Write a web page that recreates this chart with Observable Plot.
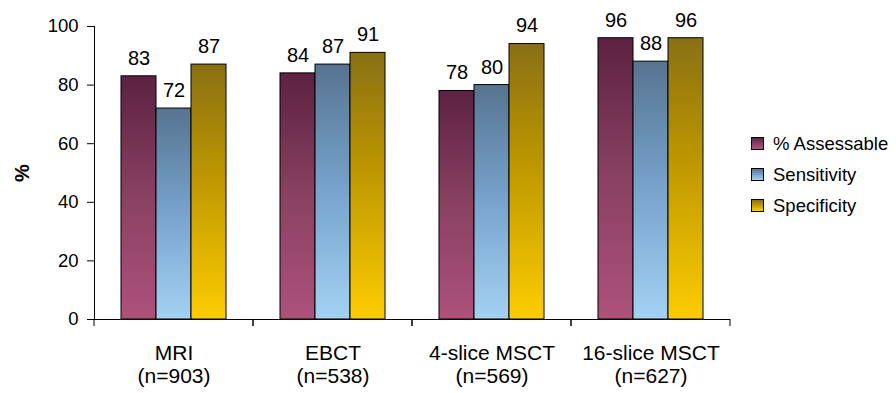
<!DOCTYPE html>
<html><head><meta charset="utf-8">
<script src="https://cdn.jsdelivr.net/npm/d3@7"></script>
<script src="https://cdn.jsdelivr.net/npm/@observablehq/plot@0.6"></script>
<style>
body{margin:0;background:#fff;font-family:Arial,"Liberation Sans",sans-serif}
#wrap{position:relative;width:896px;height:393px;overflow:hidden}
#legend{position:absolute;left:751px;top:128px}
.item{display:flex;align-items:center;height:31px;font-size:18.5px;color:#000;white-space:nowrap}
.sw{width:11px;height:11px;border:1px solid #000;margin-right:9px;box-sizing:content-box}
g[aria-label="y-axis label"] text{font-weight:bold;font-size:20px}
</style></head><body><div id="wrap"><div id="legend"></div></div>
<script>
const categories = ["MRI", "EBCT", "4-slice MSCT", "16-slice MSCT"];
const sampleSizes = [903, 538, 569, 627];
const seriesNames = ["% Assessable", "Sensitivity", "Specificity"];
const assessable = [83, 84, 78, 96];
const sensitivity = [72, 87, 80, 88];
const specificity = [87, 91, 94, 96];
const yTicks = [0, 20, 40, 60, 80, 100];
const gradientStops = [
  [[0, "#5c2240"], [0.5, "#8a4162"], [1, "#ad517b"]],
  [[0, "#577490"], [0.5, "#77a3cd"], [1, "#a3d1f2"]],
  [[0, "#8a7014"], [0.42, "#bb9500"], [1, "#fdcc00"]]
];

const seriesValues = [assessable, sensitivity, specificity];
const rows = [];
categories.forEach((c, i) => seriesNames.forEach((s, j) => rows.push({category: c, series: s, value: seriesValues[j][i]})));
const gradIds = seriesNames.map((_, j) => "grad" + j);

const defs = () => {
  const d = d3.create("svg:defs");
  gradientStops.forEach((stops, j) => {
    const g = d.append("linearGradient").attr("id", gradIds[j]).attr("x1", 0).attr("y1", 0).attr("x2", 0).attr("y2", 1);
    stops.forEach(([o, c]) => g.append("stop").attr("offset", o).attr("stop-color", c));
  });
  return d.node();
};

const edgeTicks = Plot.ruleY([0], {
  render: (index, scales, values, dimensions) => {
    const {marginLeft, marginRight, marginBottom, width, height} = dimensions;
    const y0 = height - marginBottom;
    const g = d3.create("svg:g").attr("stroke", "#000").attr("stroke-width", 1);
    for (const x of [marginLeft, width - marginRight]) {
      g.append("line").attr("x1", x).attr("x2", x).attr("y1", y0).attr("y2", y0 + 7);
    }
    return g.node();
  }
});

const chart = Plot.plot({
  width: 896, height: 393,
  marginLeft: 93, marginRight: 166, marginTop: 26, marginBottom: 74,
  style: {fontFamily: "Arial, 'Liberation Sans', sans-serif", fontSize: "18.5px", color: "#000", background: "#fff"},
  fx: {domain: categories, padding: 0, axis: null, label: null},
  x: {domain: seriesNames, paddingInner: 0, paddingOuter: 0.73, axis: null},
  y: {domain: [0, 100], axis: null},
  color: {domain: seriesNames, range: gradIds.map(id => `url(#${id})`)},
  marks: [
    defs,
    Plot.barY(rows, {fx: "category", x: "series", y: "value", fill: "series", stroke: "#000", strokeWidth: 1}),
    Plot.text(rows, {fx: "category", x: "series", y: "value", text: d => String(d.value), dy: -18, fontSize: 20, fill: "#000"}),
    Plot.ruleY([0], {stroke: "#000"}),
    Plot.frame({anchor: "left", facetAnchor: "left", stroke: "#000"}),
    edgeTicks,
    Plot.axisY({ticks: yTicks, tickSize: 7, tickPadding: 9, label: "%", labelAnchor: "center", labelArrow: "none", labelOffset: 80, fontSize: 18.5}),
    Plot.axisFx({anchor: "bottom", tickSize: 0, tickPadding: 24, label: null, fontSize: 21, lineHeight: 1.11,
      tickFormat: c => `${c}\n(n=${sampleSizes[categories.indexOf(c)]})`})
  ]
});
document.getElementById("wrap").prepend(chart);

const legend = document.getElementById("legend");
seriesNames.forEach((s, j) => {
  const item = document.createElement("div");
  item.className = "item";
  const sw = document.createElement("div");
  sw.className = "sw";
  sw.style.background = `linear-gradient(${gradientStops[j].map(([o, c]) => c + " " + (o * 100) + "%").join(",")})`;
  const t = document.createElement("span");
  t.textContent = s;
  item.append(sw, t);
  legend.append(item);
});
</script></body></html>
